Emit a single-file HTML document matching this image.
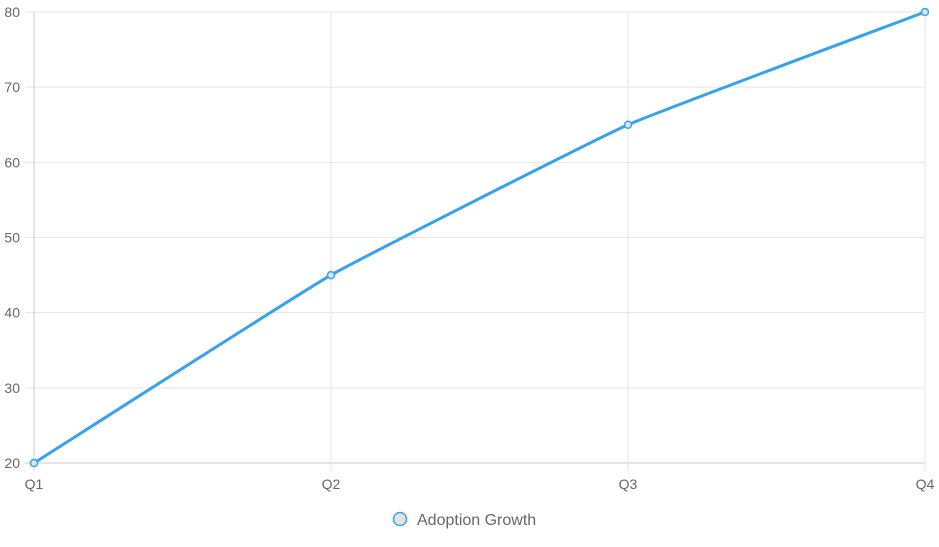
<!DOCTYPE html>
<html><head><meta charset="utf-8"><style>
body{margin:0;background:#fff;width:939px;height:542px;overflow:hidden;font-family:"Liberation Sans",sans-serif}
</style></head><body>
<svg id="chart" width="939" height="542" xmlns="http://www.w3.org/2000/svg" font-family="Liberation Sans, sans-serif">
<g id="grid"></g>
<g id="axes"></g>
<path id="line" fill="none" stroke="#36a2eb" stroke-width="3"/>
<g id="points"></g>
<g>
<circle cx="400" cy="519" r="6.5" fill="#e3e3e3" stroke="#36a2eb" stroke-width="1.5"/>
<text x="417" y="525" font-size="16" fill="#666">Adoption Growth</text>
</g>
</svg>
<script>
const categories=["Q1","Q2","Q3","Q4"];
const values=[20,45,65,80];
const yTicks=[20,30,40,50,60,70,80];
const NS="http://www.w3.org/2000/svg";
const x0=34,x1=925,yTop=12,yBot=463,yMin=20,yMax=80;
function xs(i){return x0+(x1-x0)*i/(categories.length-1);}
function ys(v){return yBot-(v-yMin)/(yMax-yMin)*(yBot-yTop);}
function mk(tag,attrs,parent){const e=document.createElementNS(NS,tag);for(const k in attrs)e.setAttribute(k,attrs[k]);parent.appendChild(e);return e;}
const grid=document.getElementById('grid'),axes=document.getElementById('axes');
yTicks.forEach(t=>{const y=ys(t);
const l=mk('line',{x1:25,x2:x1,y1:y,y2:y,stroke:t===yMin?'#c8c8c8':'#e5e5e5'},grid);


const tx=mk('text',{x:20,y:y+5,'text-anchor':'end','font-size':14,fill:'#666'},axes);
tx.textContent=t;

});
categories.forEach((c,i)=>{const x=xs(i);
const l=mk('line',{x1:x,x2:x,y1:yTop,y2:yBot+8,stroke:i===0?'#c8c8c8':'#e5e5e5'},grid);


const tx=mk('text',{x:x,y:489,'text-anchor':'middle','font-size':14,fill:'#666'},axes);
tx.textContent=c;

});
const pts=values.map((v,i)=>[xs(i),ys(v)]);
const T=0.1;
let d='M'+pts[0][0]+','+pts[0][1];
function ctrl(i){const p=pts[Math.max(i-1,0)],c=pts[i],n=pts[Math.min(i+1,pts.length-1)];
const d01=Math.hypot(c[0]-p[0],c[1]-p[1]),d12=Math.hypot(n[0]-c[0],n[1]-c[1]);
let fa=d01/(d01+d12)||0,fb=d12/(d01+d12)||0;fa*=T;fb*=T;
return{prev:[c[0]-fa*(n[0]-p[0]),c[1]-fa*(n[1]-p[1])],next:[c[0]+fb*(n[0]-p[0]),c[1]+fb*(n[1]-p[1])]};}
const cs=pts.map((_,i)=>ctrl(i));
for(let i=1;i<pts.length;i++){d+=' C'+cs[i-1].next.join(',')+' '+cs[i].prev.join(',')+' '+pts[i].join(',');}
document.getElementById('line').setAttribute('d',d);
const pg=document.getElementById('points');
pts.forEach(p=>{const c=mk('circle',{cx:p[0],cy:p[1],r:3.5,fill:'#d6e9f7',stroke:'#36a2eb','stroke-width':1.5},pg);

});
</script>
</body></html>
